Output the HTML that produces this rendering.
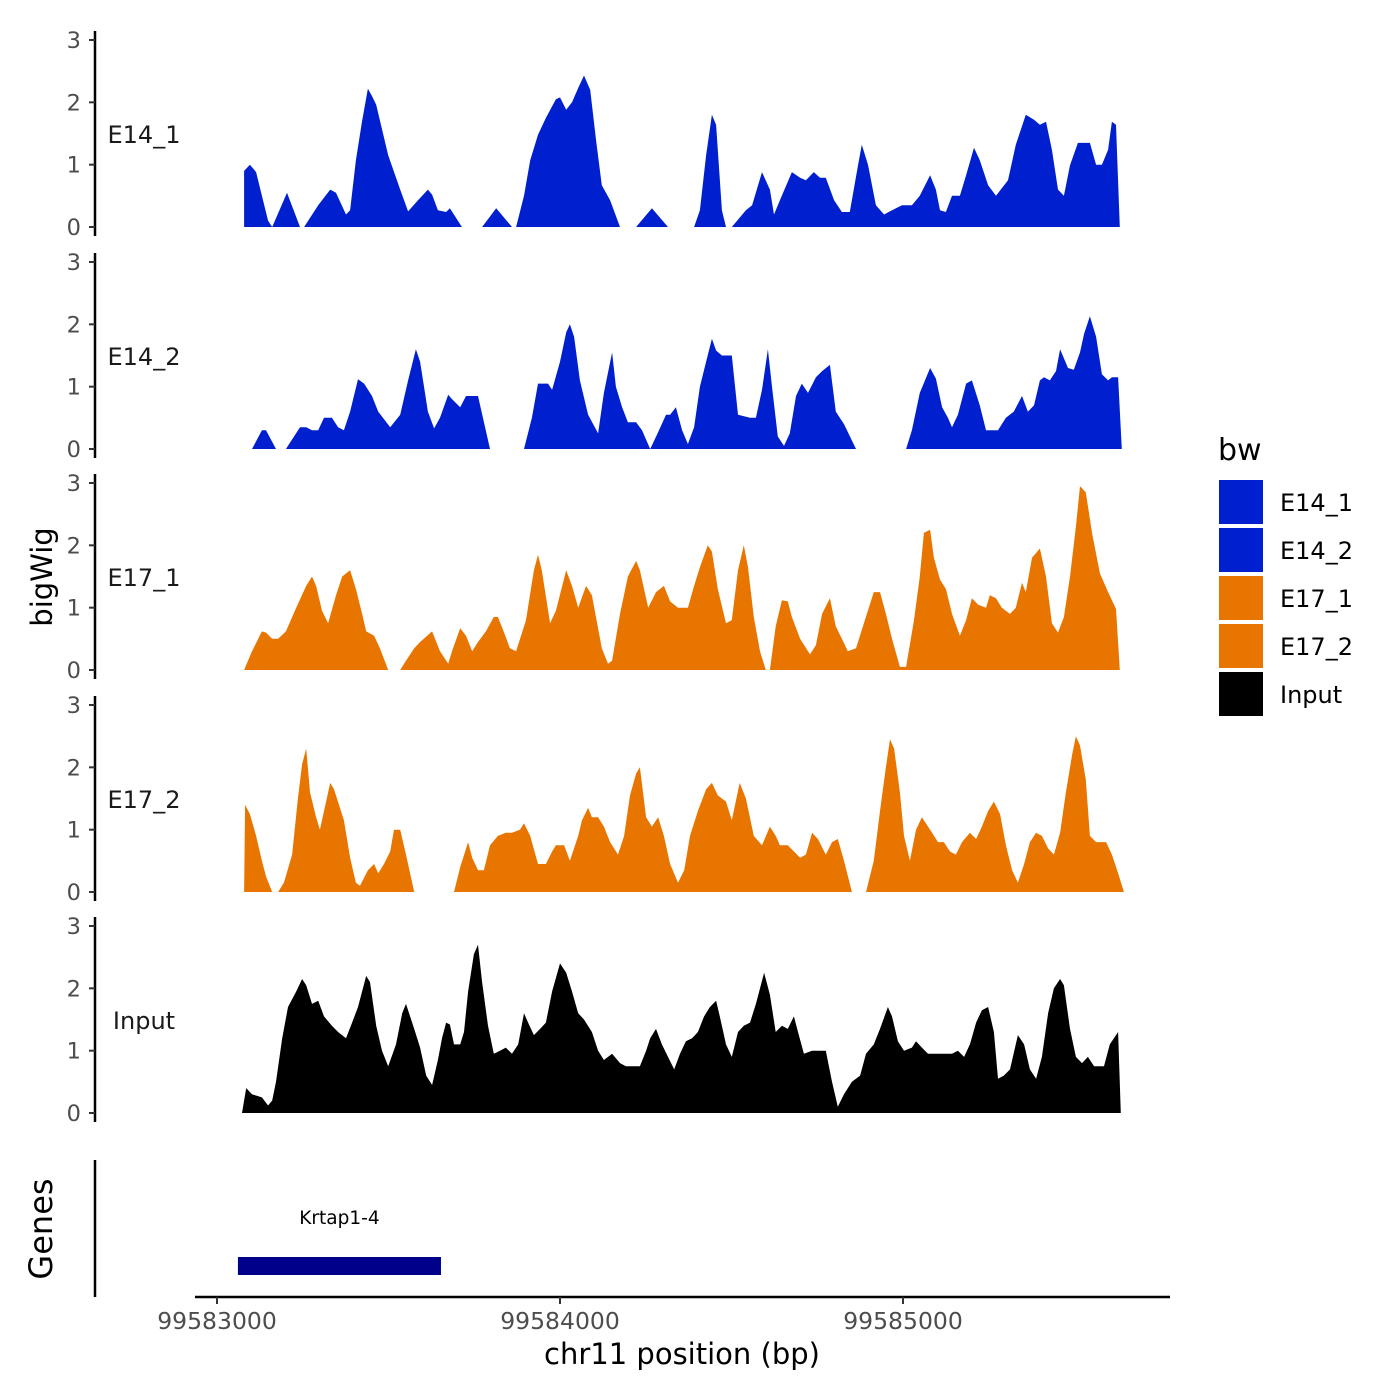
<!DOCTYPE html>
<html><head><meta charset="utf-8"><style>
html,body{margin:0;padding:0;background:#fff;}
svg{display:block;font-family:"DejaVu Sans","Liberation Sans",sans-serif;}
</style></head><body>
<svg id="chart" width="1400" height="1400" viewBox="0 0 1400 1400" xmlns="http://www.w3.org/2000/svg">
<rect width="1400" height="1400" fill="#fff"/>
<g id="panels"></g>
<g id="genes"></g>
<g id="xaxis"></g>
<text x="52" y="577" font-size="29" text-anchor="middle" transform="rotate(-90 52 577)">bigWig</text>
<text x="52" y="1229" font-size="32" text-anchor="middle" transform="rotate(-90 52 1229)">Genes</text>
<text x="682" y="1364" font-size="29" text-anchor="middle">chr11 position (bp)</text>
<g id="legend">
<text x="1218" y="460" font-size="30">bw</text>
</g>
</svg>
<script>
const START = 99582939;
const xTicks = [99583000, 99584000, 99585000];
const yTicks = [0, 1, 2, 3];
const seriesNames = ["E14_1", "E14_2", "E17_1", "E17_2", "Input"];
const seriesColors = ["#0020D0", "#0020D0", "#E87500", "#E87500", "#000000"];
const geneName = "Krtap1-4";
const geneStart = 99583061;
const geneEnd = 99583653;

const posE14_1 = [140,157,175,192,210,222,265,303,null,315,356,391,408,437,449,466,484,501,513,525,560,595,618,647,676,688,705,729,740,775,null,834,875,921,null,933,956,974,997,1020,1049,1061,1079,1096,1114,1131,1149,1166,1183,1207,1236,null,1283,1329,1376,null,1452,1469,1487,1504,1516,1533,1545,1562,1603,1621,1650,1673,1685,1702,1737,1761,1778,1801,1819,1836,1860,1883,1906,1930,1941,1959,1982,2006,2029,2058,2087,2110,2140,2157,2169,2186,2204,2227,2245,2268,2285,2309,2332,2367,2390,2419,2443,2460,2478,2495,2513,2530,2548,2571,2606,2624,2641,2659,2670,2682,2693];
const valE14_1 = [0.9,1.0,0.88,0.5,0.1,0,0.55,0,null,0,0.35,0.6,0.55,0.2,0.27,1.07,1.7,2.22,2.1,1.96,1.15,0.6,0.25,0.43,0.6,0.52,0.27,0.24,0.3,0,null,0,0.3,0,null,0,0.5,1.07,1.48,1.75,2.05,2.08,1.88,2.0,2.23,2.43,2.2,1.4,0.67,0.43,0,null,0,0.3,0,null,0,0.27,1.15,1.8,1.64,0.27,0,0,0.27,0.35,0.88,0.6,0.2,0.43,0.88,0.79,0.75,0.88,0.79,0.79,0.43,0.24,0.24,1.0,1.32,1.0,0.35,0.2,0.27,0.35,0.35,0.5,0.83,0.6,0.27,0.24,0.5,0.5,0.83,1.27,1.07,0.67,0.5,0.75,1.32,1.8,1.72,1.64,1.69,1.24,0.6,0.5,0.99,1.35,1.35,1.0,1.0,1.24,1.69,1.64,0];

const posE14_2 = [163,192,204,233,null,262,303,321,338,356,373,396,414,431,449,472,490,513,531,566,595,618,641,653,676,694,711,735,746,770,787,822,857,null,956,979,997,1026,1038,1061,1079,1090,1102,1119,1143,1172,1189,1213,1224,1242,1259,1283,1300,1324,1347,1370,1382,1399,1417,1434,1452,1469,1487,1504,1516,1533,1562,1580,1615,1632,1650,1667,1679,1696,1714,1731,1749,1766,1784,1807,1825,1848,1865,1889,1924,null,2070,2087,2110,2140,2157,2175,2192,2204,2221,2245,2262,2285,2303,2338,2361,2384,2408,2425,2443,2460,2472,2489,2507,2519,2542,2559,2577,2589,2606,2624,2641,2659,2670,2688,2699];
const valE14_2 = [0,0.3,0.3,0,null,0,0.35,0.35,0.3,0.3,0.5,0.5,0.35,0.3,0.6,1.12,1.05,0.85,0.6,0.35,0.55,1.1,1.6,1.4,0.6,0.33,0.5,0.87,0.8,0.67,0.85,0.85,0,null,0,0.5,1.05,1.05,0.95,1.4,1.87,2.0,1.8,1.1,0.55,0.25,0.9,1.55,1.0,0.67,0.43,0.43,0.3,0,0.27,0.55,0.55,0.67,0.3,0.08,0.35,1.0,1.4,1.77,1.58,1.5,1.5,0.55,0.5,0.5,0.95,1.6,1.0,0.2,0.05,0.25,0.85,1.05,0.9,1.15,1.25,1.35,0.6,0.4,0,null,0,0.3,0.9,1.3,1.13,0.67,0.5,0.35,0.55,1.05,1.1,0.7,0.3,0.3,0.5,0.6,0.85,0.6,0.7,1.1,1.15,1.1,1.25,1.6,1.3,1.27,1.55,1.85,2.13,1.8,1.2,1.1,1.15,1.15,0];

const posE17_1 = [140,163,192,204,222,239,262,292,321,338,350,367,385,408,426,449,466,484,496,519,536,560,null,595,612,636,653,688,711,735,746,770,787,805,822,845,868,880,898,915,933,962,985,997,1008,1032,1049,1079,1096,1114,1137,1154,1183,1201,1213,1236,1259,1283,1294,1318,1341,1364,1382,1405,1434,1452,1469,1492,1504,1521,1545,1562,1580,1597,1609,1626,1644,1661,null,1673,1690,1708,1725,1737,1761,1790,1807,1825,1848,1865,1883,1900,1924,1947,1976,1994,2011,2029,2052,2070,2093,2110,2122,2140,2151,2169,2186,2204,2227,2245,2262,2280,2303,2314,2332,2349,2373,2390,2408,2419,2437,2460,2478,2495,2513,2530,2548,2565,2577,2594,2612,2635,2659,2682,2693];
const valE17_1 = [0,0.3,0.62,0.6,0.5,0.5,0.62,1.0,1.35,1.5,1.35,0.95,0.75,1.2,1.5,1.6,1.3,0.9,0.62,0.55,0.35,0,null,0,0.15,0.35,0.45,0.62,0.3,0.1,0.3,0.67,0.55,0.3,0.45,0.62,0.85,0.85,0.6,0.35,0.3,0.8,1.6,1.85,1.6,0.75,0.95,1.6,1.35,1.0,1.35,1.2,0.35,0.1,0.15,0.9,1.5,1.75,1.6,1.0,1.25,1.35,1.1,1.0,1.0,1.35,1.65,2.0,1.9,1.3,0.75,0.8,1.6,2.0,1.65,0.85,0.3,0,null,0,0.7,1.12,1.1,0.85,0.5,0.25,0.4,0.9,1.15,0.7,0.5,0.3,0.35,0.75,1.25,1.25,0.9,0.5,0.05,0.05,0.8,1.5,2.2,2.25,1.8,1.45,1.3,0.9,0.55,0.8,1.15,1.05,1.0,1.2,1.15,1.0,0.9,1.0,1.4,1.25,1.8,1.95,1.5,0.75,0.6,0.85,1.5,2.3,2.95,2.85,2.2,1.55,1.25,0.98,0];

const posE17_2 = [140,143,157,175,192,204,222,null,239,256,280,297,309,321,332,350,361,379,391,402,431,449,466,478,501,519,531,548,566,577,595,612,636,null,752,770,793,805,822,839,857,880,903,921,944,956,974,997,1020,1038,1049,1073,1090,1114,1125,1143,1154,1172,1189,1207,1230,1248,1265,1283,1294,1312,1329,1347,1364,1382,1405,1423,1440,1463,1487,1504,1521,1545,1562,1585,1603,1626,1650,1673,1690,1702,1725,1743,1761,1778,1796,1813,1836,1854,1871,1889,1912,null,1953,1976,1994,2011,2023,2035,2052,2064,2081,2099,2116,2140,2163,2180,2198,2215,2233,2256,2274,2291,2309,2326,2344,2361,2379,2396,2414,2431,2449,2466,2484,2501,2519,2536,2554,2565,2577,2594,2606,2624,2653,2670,2688,2705];
const valE17_2 = [0,1.4,1.25,0.9,0.5,0.25,0,null,0,0.15,0.6,1.5,2.05,2.3,1.6,1.2,1.0,1.45,1.75,1.65,1.15,0.55,0.15,0.1,0.35,0.45,0.3,0.45,0.65,1.0,1.0,0.6,0,null,0,0.4,0.8,0.55,0.35,0.35,0.75,0.9,0.95,0.95,1.0,1.1,0.9,0.45,0.45,0.65,0.75,0.75,0.5,0.9,1.15,1.35,1.2,1.2,1.05,0.8,0.6,0.9,1.55,1.9,2.0,1.2,1.05,1.2,0.9,0.45,0.15,0.35,0.9,1.3,1.65,1.75,1.55,1.45,1.15,1.75,1.5,0.9,0.75,1.05,0.9,0.75,0.75,0.65,0.55,0.6,0.95,0.85,0.6,0.8,0.85,0.5,0,null,0,0.5,1.3,2.0,2.45,2.3,1.6,0.9,0.5,1.0,1.2,1.0,0.8,0.8,0.65,0.6,0.8,0.95,0.85,1.05,1.3,1.45,1.25,0.75,0.35,0.15,0.45,0.8,0.95,0.9,0.7,0.6,0.95,1.6,2.2,2.5,2.35,1.8,0.9,0.8,0.8,0.6,0.3,0];

const posInput = [134,146,163,192,210,222,233,251,268,292,309,321,338,356,373,396,414,437,455,472,496,507,525,542,560,583,601,612,636,653,671,688,705,717,729,740,752,770,781,793,810,822,834,851,868,886,903,921,939,956,968,985,1003,1020,1038,1061,1079,1096,1114,1131,1154,1172,1189,1213,1236,1253,1294,1312,1324,1341,1358,1376,1394,1411,1428,1446,1463,1481,1498,1516,1527,1545,1562,1580,1597,1615,1632,1656,1673,1690,1708,1725,1743,1755,1772,1796,1836,1854,1871,1889,1912,1936,1953,1976,1994,2017,2029,2046,2064,2087,2099,2116,2134,2169,2204,2221,2239,2256,2274,2291,2309,2326,2338,2355,2373,2396,2414,2431,2449,2466,2484,2501,2519,2530,2548,2565,2583,2600,2618,2647,2664,2688,2696];
const valInput = [0,0.4,0.3,0.25,0.12,0.2,0.5,1.2,1.7,1.95,2.15,2.05,1.75,1.8,1.55,1.4,1.3,1.2,1.45,1.7,2.2,2.1,1.4,1.0,0.75,1.1,1.6,1.75,1.35,1.05,0.6,0.45,0.85,1.2,1.45,1.42,1.1,1.1,1.3,1.95,2.55,2.7,2.1,1.4,0.95,1.0,1.05,0.95,1.1,1.6,1.45,1.25,1.35,1.45,1.95,2.4,2.25,1.95,1.6,1.5,1.3,1.0,0.85,0.95,0.8,0.75,0.75,1.0,1.2,1.35,1.1,0.9,0.7,0.95,1.15,1.2,1.3,1.55,1.7,1.8,1.55,1.1,0.9,1.3,1.4,1.45,1.75,2.25,1.9,1.3,1.4,1.35,1.55,1.3,0.95,1.0,1.0,0.5,0.1,0.3,0.5,0.6,0.95,1.1,1.35,1.7,1.55,1.15,1.0,1.05,1.15,1.05,0.95,0.95,0.95,1.0,0.9,1.1,1.45,1.65,1.7,1.3,0.55,0.6,0.7,1.25,1.1,0.7,0.55,0.9,1.6,2.0,2.15,2.05,1.35,0.9,0.8,0.9,0.75,0.75,1.1,1.3,0];

const allPos = [posE14_1, posE14_2, posE17_1, posE17_2, posInput];
const allVal = [valE14_1, valE14_2, valE17_1, valE17_2, valInput];

const NS = "http://www.w3.org/2000/svg";
const xPx = bp => 217 + (bp - 99583000) * 0.343;
const panelBase = [227, 449, 670, 892, 1113];
const unit = 62.33;
function mk(tag, attrs, parent) {
  const e = document.createElementNS(NS, tag);
  for (const k in attrs) e.setAttribute(k, attrs[k]);
  parent.appendChild(e);
  return e;
}
const panels = document.getElementById('panels');
seriesNames.forEach((name, i) => {
  const base = panelBase[i];
  const yPx = v => base - v * unit;
  const g = mk('g', {}, panels);
  
  
  const ax = mk('line', {x1: 95, x2: 95, y1: yPx(3) - 9, y2: base + 9, stroke: '#000', 'stroke-width': 2.5}, g);
  
  
  yTicks.forEach(t => {
    const tk = mk('line', {x1: 89, x2: 95, y1: yPx(t), y2: yPx(t), stroke: '#333', 'stroke-width': 2}, g);
    
    
    const tl = mk('text', {x: 81, y: yPx(t) + 8, 'font-size': 22.5, fill: '#4d4d4d', 'text-anchor': 'end'}, g);
    tl.textContent = t;
    
    
  });
  const lab = mk('text', {x: 144, y: base - 84, 'font-size': 24, fill: '#1a1a1a', 'text-anchor': 'middle'}, g);
  lab.textContent = name;
  
  
  const pos = allPos[i], val = allVal[i];
  let seg = [];
  const flush = () => {
    if (seg.length < 2) { seg = []; return; }
    let d = 'M' + xPx(START + seg[0][0]).toFixed(1) + ',' + base;
    seg.forEach(p => { d += 'L' + xPx(START + p[0]).toFixed(1) + ',' + yPx(p[1]).toFixed(1); });
    d += 'L' + xPx(START + seg[seg.length - 1][0]).toFixed(1) + ',' + base + 'Z';
    const a = mk('path', {d: d, fill: seriesColors[i]}, g);
    
    
    seg = [];
  };
  for (let k = 0; k < pos.length; k++) {
    if (pos[k] === null || val[k] === null) flush();
    else seg.push([pos[k], val[k]]);
  }
  flush();
});
const gg = document.getElementById('genes');
const gax = mk('line', {x1: 95, x2: 95, y1: 1160, y2: 1297, stroke: '#000', 'stroke-width': 2.5}, gg);


const gb = mk('rect', {x: xPx(geneStart), y: 1257, width: xPx(geneEnd) - xPx(geneStart), height: 18, fill: '#00008B'}, gg);


const gt = mk('text', {x: (xPx(geneStart) + xPx(geneEnd)) / 2, y: 1224, 'font-size': 18.5, 'text-anchor': 'middle', fill: '#000'}, gg);
gt.textContent = geneName;


const xa = document.getElementById('xaxis');
const xl = mk('line', {x1: 195, x2: 1170, y1: 1297, y2: 1297, stroke: '#000', 'stroke-width': 2.5}, xa);


xTicks.forEach(t => {
  const tk = mk('line', {x1: xPx(t), x2: xPx(t), y1: 1297, y2: 1304, stroke: '#333', 'stroke-width': 2}, xa);
  
  
  const tl = mk('text', {x: xPx(t), y: 1329, 'font-size': 23.5, fill: '#4d4d4d', 'text-anchor': 'middle'}, xa);
  tl.textContent = t;
  
  
});
const lg = document.getElementById('legend');
seriesNames.forEach((name, i) => {
  const y0 = 480 + i * 48;
  const r = mk('rect', {x: 1219, y: y0, width: 44, height: 44, fill: seriesColors[i]}, lg);
  
  
  const t = mk('text', {x: 1280, y: y0 + 31, 'font-size': 24, fill: '#000'}, lg);
  t.textContent = name;
  
  
});
</script>
</body></html>
